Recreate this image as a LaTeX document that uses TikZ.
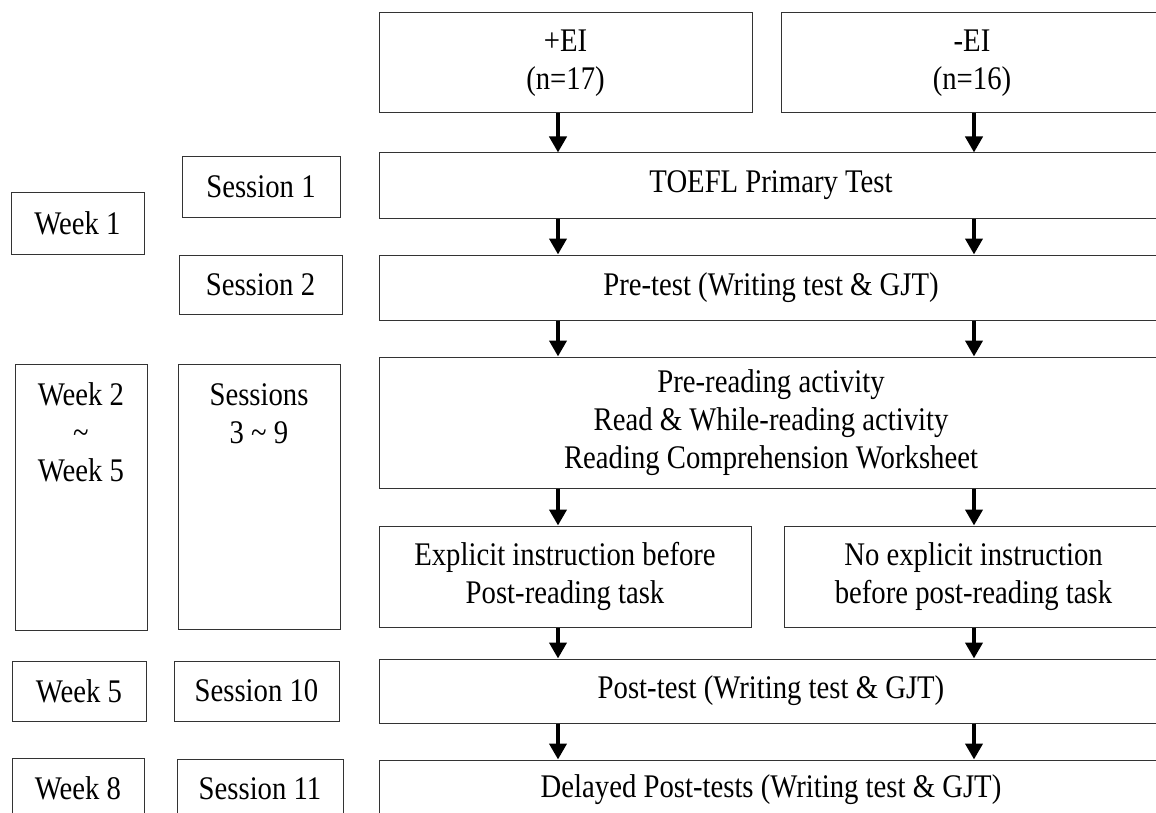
\documentclass[tikz,border=0pt]{standalone}
\usepackage{fontspec}
\setmainfont{Liberation Serif}[FakeStretch=0.87]
\usetikzlibrary{arrows.meta}

\begin{document}
\begin{tikzpicture}[
    x=1pt, y=-1pt,
    % 带边框的方框样式
    box/.style={draw=black!80, line width=1pt, inner sep=0pt, align=center,
        font=\fontsize{33}{38}\selectfont},
    % 无边框文字样式
    txt/.style={inner sep=0pt, align=center, font=\fontsize{33}{38}\selectfont},
    % 粗箭头样式
    flow/.style={line width=4.5pt, -{Triangle[width=17pt, length=16pt]}}
]

    % 1. 画布大小（超出部分裁掉）
    \useasboundingbox (0,0) rectangle (1156,813);
    \clip (0,0) rectangle (1156,813);

    % 2. 箭头所在的两列
    \def\colL{558}
    \def\colR{974}
    \coordinate (colL) at (\colL,0);
    \coordinate (colR) at (\colR,0);

    % 3. 顶部两组
    \node[box, minimum width=373pt, minimum height=100pt] (plusEI)  at (565.5,63) {+EI\\(n=17)};
    \node[box, minimum width=382pt, minimum height=100pt] (minusEI) at (972,63)   {-EI\\(n=16)};

    % 4. 右侧流程方框
    \node[box, minimum width=784pt, minimum height=65pt]  (toefl)    at (771,185.5) {TOEFL Primary Test};
    \node[box, minimum width=784pt, minimum height=65pt]  (pretest)  at (771,287.5) {Pre-test (Writing test \& GJT)};
    \node[box, minimum width=784pt, minimum height=131pt] (preread)  at (771,422.5)
        {Pre-reading activity\\Read \& While-reading activity\\Reading Comprehension Worksheet};
    \node[box, minimum width=372pt, minimum height=101pt] (explicit) at (565,576.5)
        {Explicit instruction before\\Post-reading task};
    \node[box, minimum width=379pt, minimum height=101pt] (noexpl)   at (973.5,576.5)
        {No explicit instruction\\before post-reading task};
    \node[box, minimum width=784pt, minimum height=64pt]  (posttest) at (771,691) {Post-test (Writing test \& GJT)};
    \node[box, minimum width=784pt, minimum height=60pt]  (delayed)  at (771,790)
        {Delayed Post-tests (Writing test \& GJT)};

    % 5. 左侧周次与课次
    \node[box, minimum width=133pt, minimum height=61pt] (week1)    at (77.5,223.5) {Week 1};
    \node[box, minimum width=158pt, minimum height=60pt] (session1) at (261,187)    {Session 1};
    \node[box, minimum width=163pt, minimum height=59pt] (session2) at (260.5,284.5) {Session 2};

    \node[box, minimum width=132pt, minimum height=266pt] (week25) at (81,497) {};
    \node[txt] (week25txt) at (81,432) {Week 2\\\textasciitilde\\Week 5};
    \node[box, minimum width=162pt, minimum height=265pt] (sess39) at (259,496.5) {};
    \node[txt] (sess39txt) at (259,414) {Sessions\\3 \textasciitilde{} 9};

    \node[box, minimum width=134pt, minimum height=60pt] (week5)     at (79,691)    {Week 5};
    \node[box, minimum width=165pt, minimum height=60pt] (session10) at (256.5,691) {Session 10};
    \node[box, minimum width=132pt, minimum height=60pt] (week8)     at (78,788)    {Week 8};
    \node[box, minimum width=166pt, minimum height=60pt] (session11) at (260,789)   {Session 11};

    % 6. 箭头
    \foreach \a/\b in {plusEI/toefl, toefl/pretest, pretest/preread, preread/explicit,
                       explicit/posttest, posttest/delayed}
        \draw[flow] (colL |- \a.south) -- (colL |- \b.north);
    \foreach \a/\b in {minusEI/toefl, toefl/pretest, pretest/preread, preread/noexpl,
                       noexpl/posttest, posttest/delayed}
        \draw[flow] (colR |- \a.south) -- (colR |- \b.north);

\end{tikzpicture}
\end{document}
